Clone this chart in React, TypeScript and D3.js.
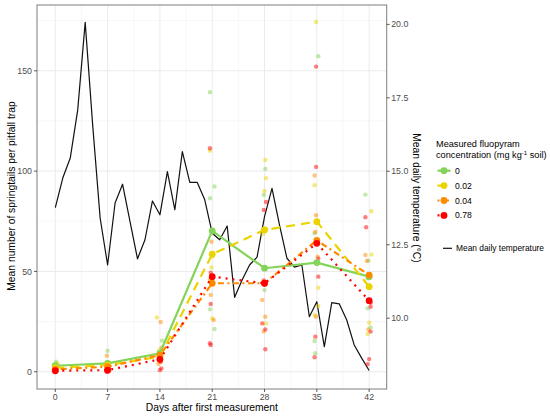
import * as d3 from 'd3'

// ── Data ────────────────────────────────────────────────────────────────────
const DAYS = [0, 7, 14, 21, 28, 35, 42]
const CONC_LABELS = ['0', '0.02', '0.04', '0.78']

// treatment means per sampling day
const MEAN_0 = [3.0, 4.2, 9.2, 70.2, 51.6, 54.4, 47.4]
const MEAN_002 = [2.0, 3.3, 7.5, 58.6, 70.7, 74.8, 42.4]
const MEAN_004 = [1.2, 2.5, 8.3, 44.1, 44.1, 65.5, 48.2]
const MEAN_078 = [0.5, 0.8, 6.2, 47.4, 44.1, 64.0, 35.4]

// single traps: [jittered day, springtails]
const PTS_0: [number, number][] = [
  [0.1, 5], [-0.2, 3.5], [0.2, 2.5],
  [7.0, 10.5], [6.9, 4.2], [7.1, 3],
  [14.3, 15.5], [13.9, 9.5], [14.1, 8],
  [20.7, 139.3], [21.3, 92.3], [20.7, 86.5], [20.7, 31.1], [21.3, 21.3],
  [28.1, 101.1], [27.9, 88.1], [28.0, 40.7], [28.1, 52],
  [35.2, 157.3], [34.7, 69], [34.7, 15.3], [34.8, 9.2], [35.0, 54],
  [41.5, 88.3], [41.9, 55.4], [41.8, 46.6], [41.8, 31.6], [42.2, 22.1],
]
const PTS_002: [number, number][] = [
  [0.3, 4.2], [0.0, 2.5], [-0.1, 1.5],
  [6.8, 2.5], [7.1, 1.5],
  [13.6, 27.1], [13.9, 10.8], [14.0, 7.9], [14.1, 5],
  [20.7, 110.2], [21.0, 59], [21.0, 57.4], [20.9, 52], [21.0, 26.6],
  [28.1, 105.6], [28.2, 96.5], [28.0, 90.1], [27.8, 68.7], [28.2, 24.1],
  [34.9, 174.3], [34.7, 93], [34.9, 74.8], [35.2, 41.9], [35.2, 32.8], [34.7, 28.3],
  [42.3, 80], [42.3, 58.4], [42.0, 42.1], [42.0, 24.4], [41.8, 18.8],
]
const PTS_004: [number, number][] = [
  [-0.2, 0.8], [0.1, 1.5],
  [6.9, 8], [7.1, 2], [6.8, 0.5],
  [14.1, 24.8], [13.9, 9.5], [13.8, 4], [14.2, 12],
  [20.9, 64.8], [20.7, 46], [20.8, 38.3], [21.2, 25.8], [21.1, 44],
  [28.2, 71], [27.7, 35.8], [28.1, 27.4], [27.9, 20.1], [27.8, 44],
  [34.7, 97.8], [34.9, 78], [34.8, 69.7], [35.1, 57.4], [34.9, 27.4],
  [41.5, 58.2], [41.7, 55.2], [41.9, 48.2], [41.9, 21.1],
]
const PTS_078: [number, number][] = [
  [0.0, 0], [-0.1, 0.5], [0.2, 1],
  [6.9, 0], [7.1, 1], [7.0, 0.3],
  [14.0, 0.8], [14.2, 1.7], [13.9, 6], [14.1, 5],
  [20.7, 111.4], [20.8, 49.4], [21.1, 47.4], [20.8, 33.8], [20.7, 14.2], [20.8, 13.3],
  [28.2, 84.6], [27.9, 80.6], [28.0, 44.1], [27.9, 45.5], [27.7, 24.1], [28.1, 21.1], [28.1, 11.2],
  [34.9, 152.1], [34.9, 102.1], [35.0, 64], [35.2, 56.4], [35.2, 47.4], [34.8, 17.5], [34.7, 7.2],
  [41.5, 77], [41.6, 72], [41.9, 35.3], [42.2, 34.4], [42.2, 32.4], [42.2, 20], [42.0, 6.3], [41.8, 3.8],
]

// mean daily temperature, day 0..42 (°C)
const TEMP = [
  13.76, 14.77, 15.45, 17.09, 20.07, 16.58, 13.41, 11.81, 13.92, 14.56,
  13.29, 12.02, 12.67, 13.99, 13.52, 14.99, 13.69, 15.67, 14.62, 14.62,
  14.03, 12.89, 12.67, 13.14, 10.71, 11.3, 11.81, 12.08, 13.46, 14.42,
  13.18, 12.04, 11.74, 11.81, 10.05, 10.56, 9.03, 10.53, 10.49, 9.94,
  9.09, 8.64, 8.22,
]

const Y_TICKS = [0, 50, 100, 150]
const Y_MINOR = [25, 75, 125, 175]
const T_TICKS = [10, 12.5, 15, 17.5, 20]
const X_MINOR = [3.5, 10.5, 17.5, 24.5, 31.5, 38.5]

const SERIES = [
  { label: CONC_LABELS[0], means: MEAN_0, pts: PTS_0, color: '#84d45a', dash: null as string | null },
  { label: CONC_LABELS[1], means: MEAN_002, pts: PTS_002, color: '#ead400', dash: '9,6' },
  { label: CONC_LABELS[2], means: MEAN_004, pts: PTS_004, color: '#ff8a00', dash: '2,3.5,6,3.5' },
  { label: CONC_LABELS[3], means: MEAN_078, pts: PTS_078, color: '#ff0000', dash: '2,5' },
]

const FONT = 'Arial, "Liberation Sans", sans-serif'

export default function App() {
  const W = 550, H = 420
  const L = 37, R = 386.7, T = 5, B = 389

  const x = d3.scaleLinear().domain([-2.45, 44.35]).range([L, R])
  const y = d3.scaleLinear().domain([-8.6, 182.8]).range([B, T])
  const yT = d3.scaleLinear().domain([7.59, 20.66]).range([B, T])

  const meanLine = d3.line<number>().x((_, i) => x(DAYS[i])).y((d) => y(d))
  const tempLine = d3.line<number>().x((_, i) => x(i)).y((d) => yT(d))

  return (
    <svg width={W} height={H} style={{ position: 'absolute', left: 0, top: 0, background: '#fff' }} fontFamily={FONT}>
      <rect width={W} height={H} fill="#fff" />

      {/* grid */}
      {X_MINOR.map((d) => (
        <line key={'xm' + d} x1={x(d)} x2={x(d)} y1={T} y2={B} stroke="#f2f2f2" strokeWidth={0.6} />
      ))}
      {Y_MINOR.map((d) => (
        <line key={'ym' + d} x1={L} x2={R} y1={y(d)} y2={y(d)} stroke="#f2f2f2" strokeWidth={0.6} />
      ))}
      {DAYS.map((d) => (
        <line key={'xg' + d} x1={x(d)} x2={x(d)} y1={T} y2={B} stroke="#ebebeb" strokeWidth={1} />
      ))}
      {Y_TICKS.map((d) => (
        <line key={'yg' + d} x1={L} x2={R} y1={y(d)} y2={y(d)} stroke="#ebebeb" strokeWidth={1} />
      ))}

      {/* temperature */}
      <path d={tempLine(TEMP) ?? ''} fill="none" stroke="#111" strokeWidth={1.2} strokeLinejoin="round" />

      {/* single traps */}
      {SERIES.map((s) =>
        s.pts.map(([d, v], i) => (
          <circle key={s.label + i} cx={x(d)} cy={y(v)} r={2.2} fill={s.color} fillOpacity={0.5} />
        )),
      )}

      {/* treatment means */}
      {SERIES.map((s) => (
        <g key={'m' + s.label}>
          <path d={meanLine(s.means) ?? ''} fill="none" stroke={s.color} strokeWidth={2.2}
            strokeDasharray={s.dash ?? undefined} />
          {s.means.map((v, i) => (
            <circle key={i} cx={x(DAYS[i])} cy={y(v)} r={3.4} fill={s.color} />
          ))}
        </g>
      ))}

      {/* panel border */}
      <rect x={L} y={T} width={R - L} height={B - T} fill="none" stroke="#7f7f7f" strokeWidth={1} />

      {/* left axis */}
      {Y_TICKS.map((d) => (
        <g key={'yt' + d}>
          <line x1={L - 3} x2={L} y1={y(d)} y2={y(d)} stroke="#333" strokeWidth={0.8} />
          <text x={L - 5} y={y(d)} dy="0.35em" textAnchor="end" fontSize={8.8} fill="#4d4d4d">{d}</text>
        </g>
      ))}
      {/* right axis */}
      {T_TICKS.map((d) => (
        <g key={'tt' + d}>
          <line x1={R} x2={R + 3} y1={yT(d)} y2={yT(d)} stroke="#333" strokeWidth={0.8} />
          <text x={R + 4.5} y={yT(d)} dy="0.35em" fontSize={8.8} fill="#4d4d4d">{d.toFixed(1)}</text>
        </g>
      ))}
      {/* bottom axis */}
      {DAYS.map((d) => (
        <g key={'xt' + d}>
          <line x1={x(d)} x2={x(d)} y1={B} y2={B + 3} stroke="#333" strokeWidth={0.8} />
          <text x={x(d)} y={B + 4.5} dy="0.75em" textAnchor="middle" fontSize={8.8} fill="#4d4d4d">{d}</text>
        </g>
      ))}

      {/* axis titles */}
      <text x={(L + R) / 2} y={411} textAnchor="middle" fontSize={10.3} fill="#000">Days after first measurement</text>
      <text transform={`translate(15,196) rotate(-90)`} textAnchor="middle" fontSize={10.3} fill="#000">
        Mean number of springtails per pitfall trap
      </text>
      <text transform={`translate(413,198) rotate(90)`} textAnchor="middle" fontSize={10.3} fill="#000">
        Mean daily temperature (°C)
      </text>

      {/* legend */}
      <text x={436} y={147} fontSize={9.2} fill="#000">Measured fluopyram</text>
      <text x={436} y={157.5} fontSize={9.2} fill="#000">
        concentration (mg kg<tspan dy={-3} fontSize={6}>-1</tspan><tspan dy={3}> soil)</tspan>
      </text>
      {SERIES.map((s, i) => {
        const ly = 170.7 + i * 14.9
        return (
          <g key={'lg' + s.label}>
            <line x1={437.5} x2={450.5} y1={ly} y2={ly} stroke={s.color} strokeWidth={2.2}
              strokeDasharray={s.dash ?? undefined} />
            <circle cx={444} cy={ly} r={3.4} fill={s.color} />
            <text x={455} y={ly} dy="0.35em" fontSize={8.6} fill="#000">{s.label}</text>
          </g>
        )
      })}
      <line x1={443} x2={452} y1={248.3} y2={248.3} stroke="#111" strokeWidth={1.2} />
      <text x={456} y={248.3} dy="0.35em" fontSize={8.4} fill="#000">Mean daily temperature</text>
    </svg>
  )
}
